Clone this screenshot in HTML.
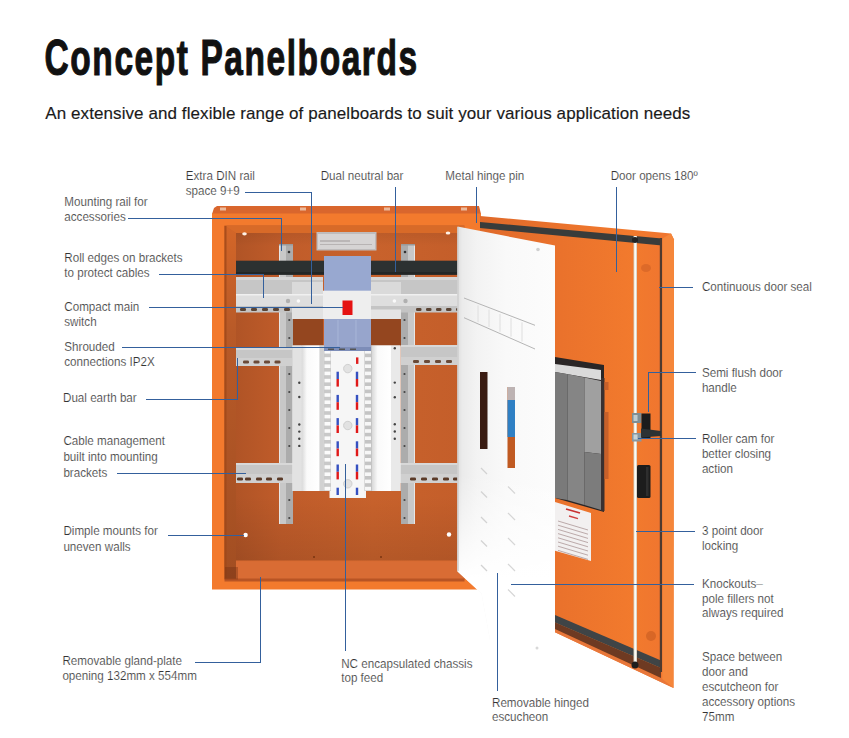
<!DOCTYPE html>
<html><head><meta charset="utf-8"><title>Concept Panelboards</title>
<style>
html,body{margin:0;padding:0;background:#fff;}
body{width:849px;height:738px;overflow:hidden;position:relative;}
svg{position:absolute;left:0;top:0;}
.lbl text{font-family:"Liberation Sans",sans-serif;font-size:12px;fill:#333333;stroke:#fff;stroke-width:0.18px;}
.ttl{font-family:"Liberation Sans",sans-serif;}
.cl polyline{fill:none;stroke:#34609c;stroke-width:1;}
</style></head>
<body>
<svg width="849" height="738" viewBox="0 0 849 738">
<text class="ttl" transform="translate(44.6,75.3) scale(0.67,1)" x="0" y="0" textLength="556" lengthAdjust="spacing" font-size="50" font-weight="bold" fill="#111" stroke="#111" stroke-width="1.1">Concept Panelboards</text>
<text class="ttl" transform="translate(45.3,118.8)" textLength="645" lengthAdjust="spacing" font-size="17" fill="#1a1a1a" stroke="#1a1a1a" stroke-width="0.15">An extensive and flexible range of panelboards to suit your various application needs</text>
<defs>
<linearGradient id="gBack" gradientUnits="userSpaceOnUse" x1="236" y1="0" x2="464" y2="0">
 <stop offset="0" stop-color="#b05426"/><stop offset="0.2" stop-color="#c05c2a"/><stop offset="0.6" stop-color="#c8622c"/><stop offset="1" stop-color="#c45e2a"/>
</linearGradient>
<linearGradient id="gBackV" gradientUnits="userSpaceOnUse" x1="0" y1="233" x2="0" y2="561">
 <stop offset="0" stop-color="#000" stop-opacity="0.06"/><stop offset="0.04" stop-color="#000" stop-opacity="0.0"/><stop offset="0.8" stop-color="#000" stop-opacity="0.0"/><stop offset="1" stop-color="#000" stop-opacity="0.1"/>
</linearGradient>
<linearGradient id="gEsc" x1="0" y1="0" x2="1" y2="0">
 <stop offset="0" stop-color="#dedede"/><stop offset="0.05" stop-color="#ebebeb"/><stop offset="0.2" stop-color="#f3f3f3"/><stop offset="0.5" stop-color="#f9f9f9"/><stop offset="1" stop-color="#fcfcfc"/>
</linearGradient>
<linearGradient id="gEscV" x1="0" y1="0" x2="0" y2="1">
 <stop offset="0" stop-color="#fff" stop-opacity="0"/><stop offset="0.6" stop-color="#fff" stop-opacity="0"/><stop offset="0.85" stop-color="#fff" stop-opacity="1"/><stop offset="1" stop-color="#fff" stop-opacity="1"/>
</linearGradient>
<linearGradient id="gDoor" gradientUnits="userSpaceOnUse" x1="480" y1="0" x2="660" y2="0">
 <stop offset="0" stop-color="#e06a2a"/><stop offset="0.45" stop-color="#ea722c"/><stop offset="0.85" stop-color="#f27a2d"/><stop offset="1" stop-color="#f0762f"/>
</linearGradient>
<linearGradient id="gLW" gradientUnits="userSpaceOnUse" x1="0" y1="226" x2="0" y2="579">
 <stop offset="0" stop-color="#d46628"/><stop offset="0.3" stop-color="#b85a28"/><stop offset="1" stop-color="#a24e22"/>
</linearGradient>
<linearGradient id="gCh" x1="0" y1="0" x2="1" y2="0">
 <stop offset="0" stop-color="#d8d8d8"/><stop offset="0.3" stop-color="#fafafa"/><stop offset="1" stop-color="#ffffff"/>
</linearGradient>
</defs>
<polygon points="214,208 217,206 479,206 481,214 212,214" fill="#d9662d"/>
<rect x="212" y="213.5" width="269" height="376" fill="#f37a2d"/>
<rect x="224.5" y="225.5" width="240" height="354" fill="#c86028"/>
<rect x="236" y="233" width="228" height="328" fill="url(#gBack)"/>
<rect x="236" y="233" width="228" height="328" fill="url(#gBackV)"/>
<rect x="236" y="561" width="228" height="18.5" fill="#d96c34"/>
<polygon points="224.5,225.5 236,233 236,579.5 224.5,579.5" fill="url(#gLW)"/>
<polygon points="224.5,225.5 464,225.5 464,233 236,233" fill="#d86a28"/>
<line x1="225.5" y1="226" x2="225.5" y2="579" stroke="#a04818" stroke-width="2" opacity="0.8"/>
<line x1="236" y1="561" x2="464" y2="561" stroke="#d86a30" stroke-width="1.2"/>
<rect x="224.5" y="578.5" width="240" height="3" fill="#b85424"/>
<rect x="225" y="567" width="13" height="12.5" fill="#6a2c10" opacity="0.35"/>
<rect x="220" y="207.5" width="6" height="3" fill="#f0d0b8" opacity="0.8"/>
<rect x="300" y="207.5" width="6" height="3" fill="#f0d0b8" opacity="0.8"/>
<rect x="384" y="207.5" width="6" height="3" fill="#f0d0b8" opacity="0.8"/>
<rect x="461" y="207.5" width="6" height="3" fill="#f0d0b8" opacity="0.8"/>
<ellipse cx="244.5" cy="233.8" rx="2.3" ry="1.6" fill="#fff2e6"/>
<ellipse cx="448" cy="233" rx="2.3" ry="1.6" fill="#fff2e6"/>
<circle cx="245.6" cy="535" r="2.2" fill="#fff"/>
<circle cx="449" cy="534.5" r="2.2" fill="#fff"/>
<circle cx="314" cy="557" r="1" fill="#7a3510"/>
<circle cx="381" cy="557" r="1" fill="#7a3510"/>
<rect x="316.5" y="232" width="60" height="18.5" fill="#bfbcbc"/>
<rect x="318" y="234" width="57" height="15" fill="#d6d4d4"/>
<line x1="320" y1="241" x2="350" y2="241" stroke="#a09a9a" stroke-width="1"/>
<line x1="320" y1="244.5" x2="372" y2="244.5" stroke="#b8b4b4" stroke-width="1"/>
<rect x="279" y="244" width="14" height="280" fill="#c8c8c8"/>
<rect x="286" y="244" width="7" height="280" fill="#acacac"/>
<rect x="279" y="244" width="1" height="280" fill="#e6e6e6"/>
<circle cx="289.3" cy="320" r="1.1" fill="#444"/>
<circle cx="289.3" cy="338" r="1.1" fill="#444"/>
<circle cx="289.3" cy="356" r="1.1" fill="#444"/>
<circle cx="289.3" cy="374" r="1.1" fill="#444"/>
<circle cx="289.3" cy="392" r="1.1" fill="#444"/>
<circle cx="289.3" cy="410" r="1.1" fill="#444"/>
<circle cx="289.3" cy="428" r="1.1" fill="#444"/>
<circle cx="289.3" cy="446" r="1.1" fill="#444"/>
<circle cx="289.3" cy="464" r="1.1" fill="#444"/>
<circle cx="289.3" cy="482" r="1.1" fill="#444"/>
<circle cx="289.3" cy="500" r="1.1" fill="#444"/>
<circle cx="289.3" cy="518" r="1.1" fill="#444"/>
<circle cx="289" cy="252" r="1.3" fill="#333"/>
<rect x="279" y="244" width="14" height="1.5" fill="#9a9a9a"/>
<rect x="401" y="244" width="14" height="280" fill="#c8c8c8"/>
<rect x="401" y="244" width="7" height="280" fill="#acacac"/>
<rect x="414" y="244" width="1" height="280" fill="#e6e6e6"/>
<circle cx="404.5" cy="320" r="1.1" fill="#444"/>
<circle cx="404.5" cy="338" r="1.1" fill="#444"/>
<circle cx="404.5" cy="356" r="1.1" fill="#444"/>
<circle cx="404.5" cy="374" r="1.1" fill="#444"/>
<circle cx="404.5" cy="392" r="1.1" fill="#444"/>
<circle cx="404.5" cy="410" r="1.1" fill="#444"/>
<circle cx="404.5" cy="428" r="1.1" fill="#444"/>
<circle cx="404.5" cy="446" r="1.1" fill="#444"/>
<circle cx="404.5" cy="464" r="1.1" fill="#444"/>
<circle cx="404.5" cy="482" r="1.1" fill="#444"/>
<circle cx="404.5" cy="500" r="1.1" fill="#444"/>
<circle cx="404.5" cy="518" r="1.1" fill="#444"/>
<circle cx="405" cy="252" r="1.3" fill="#333"/>
<rect x="401" y="244" width="14" height="1.5" fill="#9a9a9a"/>
<rect x="236" y="260.7" width="228" height="14" fill="#2c3131"/>
<rect x="236" y="272" width="228" height="2.7" fill="#222626"/>
<rect x="236" y="277" width="87" height="17" fill="#c6c6c6"/>
<rect x="236" y="277" width="87" height="3" fill="#d6d6d6"/>
<rect x="236" y="294" width="87" height="12" fill="#dedede"/>
<rect x="236" y="294" width="87" height="1.5" fill="#f0f0f0"/>
<rect x="236" y="306" width="87" height="6.5" fill="#c4c4c4"/>
<rect x="371" y="277" width="93" height="17" fill="#c6c6c6"/>
<rect x="371" y="277" width="93" height="3" fill="#d6d6d6"/>
<rect x="371" y="294" width="93" height="12" fill="#dedede"/>
<rect x="371" y="294" width="93" height="1.5" fill="#f0f0f0"/>
<rect x="371" y="306" width="93" height="6.5" fill="#c4c4c4"/>
<rect x="240" y="308" width="6" height="3" rx="1.3" fill="#5b4434"/>
<rect x="251" y="308" width="6" height="3" rx="1.3" fill="#5b4434"/>
<rect x="262" y="308" width="6" height="3" rx="1.3" fill="#5b4434"/>
<rect x="273" y="308" width="6" height="3" rx="1.3" fill="#5b4434"/>
<rect x="284" y="308" width="6" height="3" rx="1.3" fill="#5b4434"/>
<rect x="416" y="308" width="5.5" height="3" rx="1.3" fill="#5b4434"/>
<rect x="426" y="308" width="5.5" height="3" rx="1.3" fill="#5b4434"/>
<rect x="436" y="308" width="5.5" height="3" rx="1.3" fill="#5b4434"/>
<rect x="446" y="308" width="5.5" height="3" rx="1.3" fill="#5b4434"/>
<rect x="456" y="308" width="5.5" height="3" rx="1.3" fill="#5b4434"/>
<rect x="292" y="282" width="31" height="12" fill="#dadada"/>
<rect x="292" y="308" width="31" height="11" fill="#e2e2e2"/>
<rect x="371" y="282" width="30" height="12" fill="#dadada"/>
<rect x="371" y="309.5" width="30" height="10" fill="#e4e4e4"/>
<circle cx="394.4" cy="301" r="1.8" fill="#fafafa"/>
<circle cx="405.5" cy="301" r="2.2" fill="#b0b0b0"/>
<circle cx="298.4" cy="301" r="1.8" fill="#fafafa"/>
<circle cx="288" cy="301" r="2.2" fill="#b0b0b0"/>
<rect x="236" y="348" width="56" height="18" fill="#c6c6c6"/>
<rect x="236" y="348" width="56" height="2" fill="#d8d8d8"/>
<rect x="236" y="358" width="56" height="8" fill="#d0d0d0"/>
<rect x="401" y="345" width="63" height="20" fill="#c6c6c6"/>
<rect x="401" y="345" width="63" height="2" fill="#d8d8d8"/>
<rect x="401" y="357" width="63" height="8" fill="#d0d0d0"/>
<rect x="236" y="463" width="57" height="20" fill="#c6c6c6"/>
<rect x="236" y="463" width="57" height="2" fill="#d8d8d8"/>
<rect x="236" y="474" width="57" height="9" fill="#d0d0d0"/>
<rect x="400" y="463" width="64" height="20" fill="#c6c6c6"/>
<rect x="400" y="463" width="64" height="2" fill="#d8d8d8"/>
<rect x="400" y="474" width="64" height="9" fill="#d0d0d0"/>
<rect x="243" y="360.5" width="6" height="3" rx="1.3" fill="#6a4a38"/>
<rect x="253.5" y="360.5" width="6" height="3" rx="1.3" fill="#6a4a38"/>
<rect x="264" y="360.5" width="6" height="3" rx="1.3" fill="#6a4a38"/>
<rect x="274.5" y="360.5" width="6" height="3" rx="1.3" fill="#6a4a38"/>
<rect x="413" y="360" width="6" height="3" rx="1.3" fill="#6a4a38"/>
<rect x="424" y="360" width="6" height="3" rx="1.3" fill="#6a4a38"/>
<rect x="435" y="360" width="6" height="3" rx="1.3" fill="#6a4a38"/>
<rect x="446" y="360" width="6" height="3" rx="1.3" fill="#6a4a38"/>
<rect x="237" y="477.5" width="6" height="3" rx="1.3" fill="#5a3a28"/>
<rect x="245" y="477.5" width="6" height="3" rx="1.3" fill="#5a3a28"/>
<rect x="256" y="477.5" width="6" height="3" rx="1.3" fill="#5a3a28"/>
<rect x="266" y="477.5" width="6" height="3" rx="1.3" fill="#5a3a28"/>
<rect x="277" y="477.5" width="6" height="3" rx="1.3" fill="#5a3a28"/>
<rect x="410" y="477.5" width="6" height="3" rx="1.3" fill="#5a3a28"/>
<rect x="421" y="477.5" width="6" height="3" rx="1.3" fill="#5a3a28"/>
<rect x="432" y="477.5" width="6" height="3" rx="1.3" fill="#5a3a28"/>
<rect x="443" y="477.5" width="6" height="3" rx="1.3" fill="#5a3a28"/>
<rect x="453" y="477.5" width="6" height="3" rx="1.3" fill="#5a3a28"/>
<rect x="293" y="319" width="30" height="27" fill="#94461f"/>
<rect x="371" y="319" width="30" height="27" fill="#94461f"/>
<rect x="292.5" y="345.5" width="108" height="145.5" fill="#ededed"/>
<rect x="329.5" y="480" width="36.5" height="18" fill="#f3f3f3"/>
<rect x="292.5" y="345.5" width="9" height="145.5" fill="#e2e2e2"/>
<rect x="301.5" y="345.5" width="18" height="145.5" fill="url(#gCh)"/>
<rect x="319.5" y="345.5" width="4" height="145.5" fill="#d2d2d2"/>
<rect x="323.5" y="345.5" width="7.5" height="145.5" fill="#c9c9c9"/>
<rect x="331" y="345.5" width="33.5" height="152" fill="#f6f6f6"/>
<rect x="364.5" y="345.5" width="7.5" height="145.5" fill="#c4c4c4"/>
<rect x="372" y="345.5" width="19" height="145.5" fill="url(#gCh)"/>
<rect x="391" y="345.5" width="9.5" height="145.5" fill="#e9e9e9"/>
<rect x="324.5" y="350.0" width="6" height="3.6" fill="#fbfbfb"/>
<rect x="365" y="350.0" width="6" height="3.6" fill="#f7f7f7"/>
<rect x="324.5" y="357.2" width="6" height="3.6" fill="#fbfbfb"/>
<rect x="365" y="357.2" width="6" height="3.6" fill="#f7f7f7"/>
<rect x="324.5" y="364.4" width="6" height="3.6" fill="#fbfbfb"/>
<rect x="365" y="364.4" width="6" height="3.6" fill="#f7f7f7"/>
<rect x="324.5" y="371.6" width="6" height="3.6" fill="#fbfbfb"/>
<rect x="365" y="371.6" width="6" height="3.6" fill="#f7f7f7"/>
<rect x="324.5" y="378.8" width="6" height="3.6" fill="#fbfbfb"/>
<rect x="365" y="378.8" width="6" height="3.6" fill="#f7f7f7"/>
<rect x="324.5" y="386.0" width="6" height="3.6" fill="#fbfbfb"/>
<rect x="365" y="386.0" width="6" height="3.6" fill="#f7f7f7"/>
<rect x="324.5" y="393.2" width="6" height="3.6" fill="#fbfbfb"/>
<rect x="365" y="393.2" width="6" height="3.6" fill="#f7f7f7"/>
<rect x="324.5" y="400.4" width="6" height="3.6" fill="#fbfbfb"/>
<rect x="365" y="400.4" width="6" height="3.6" fill="#f7f7f7"/>
<rect x="324.5" y="407.6" width="6" height="3.6" fill="#fbfbfb"/>
<rect x="365" y="407.6" width="6" height="3.6" fill="#f7f7f7"/>
<rect x="324.5" y="414.8" width="6" height="3.6" fill="#fbfbfb"/>
<rect x="365" y="414.8" width="6" height="3.6" fill="#f7f7f7"/>
<rect x="324.5" y="422.0" width="6" height="3.6" fill="#fbfbfb"/>
<rect x="365" y="422.0" width="6" height="3.6" fill="#f7f7f7"/>
<rect x="324.5" y="429.2" width="6" height="3.6" fill="#fbfbfb"/>
<rect x="365" y="429.2" width="6" height="3.6" fill="#f7f7f7"/>
<rect x="324.5" y="436.4" width="6" height="3.6" fill="#fbfbfb"/>
<rect x="365" y="436.4" width="6" height="3.6" fill="#f7f7f7"/>
<rect x="324.5" y="443.6" width="6" height="3.6" fill="#fbfbfb"/>
<rect x="365" y="443.6" width="6" height="3.6" fill="#f7f7f7"/>
<rect x="324.5" y="450.8" width="6" height="3.6" fill="#fbfbfb"/>
<rect x="365" y="450.8" width="6" height="3.6" fill="#f7f7f7"/>
<rect x="324.5" y="458.0" width="6" height="3.6" fill="#fbfbfb"/>
<rect x="365" y="458.0" width="6" height="3.6" fill="#f7f7f7"/>
<rect x="324.5" y="465.2" width="6" height="3.6" fill="#fbfbfb"/>
<rect x="365" y="465.2" width="6" height="3.6" fill="#f7f7f7"/>
<rect x="324.5" y="472.4" width="6" height="3.6" fill="#fbfbfb"/>
<rect x="365" y="472.4" width="6" height="3.6" fill="#f7f7f7"/>
<rect x="324.5" y="479.6" width="6" height="3.6" fill="#fbfbfb"/>
<rect x="365" y="479.6" width="6" height="3.6" fill="#f7f7f7"/>
<rect x="324.5" y="486.8" width="6" height="3.6" fill="#fbfbfb"/>
<rect x="365" y="486.8" width="6" height="3.6" fill="#f7f7f7"/>
<circle cx="299.3" cy="382.8" r="1.2" fill="#444"/>
<circle cx="299.3" cy="397" r="1.2" fill="#444"/>
<circle cx="299.3" cy="424.5" r="1.2" fill="#444"/>
<circle cx="299.3" cy="431.6" r="1.2" fill="#444"/>
<circle cx="299.3" cy="438.7" r="1.2" fill="#444"/>
<circle cx="299.3" cy="445.9" r="1.2" fill="#444"/>
<circle cx="394.8" cy="348.3" r="1.2" fill="#444"/>
<circle cx="394.8" cy="382.6" r="1.2" fill="#444"/>
<circle cx="394.8" cy="397.3" r="1.2" fill="#444"/>
<circle cx="394.8" cy="424.2" r="1.2" fill="#444"/>
<circle cx="394.8" cy="431.5" r="1.2" fill="#444"/>
<circle cx="394.8" cy="438.7" r="1.2" fill="#444"/>
<circle cx="347.8" cy="368.6" r="4.2" fill="#e2e2e2" stroke="#cfcfcf" stroke-width="1"/>
<circle cx="347.8" cy="425.5" r="4.2" fill="#e2e2e2" stroke="#cfcfcf" stroke-width="1"/>
<circle cx="347.8" cy="483.8" r="4.2" fill="#e2e2e2" stroke="#cfcfcf" stroke-width="1"/>
<rect x="356" y="357.4" width="2.4" height="6.5" fill="#e02020"/>
<rect x="336.5" y="371.7" width="2.4" height="7.3" fill="#3550c0"/>
<rect x="336.5" y="379.0" width="2.4" height="7.6" fill="#e01818"/>
<rect x="355.8" y="371.7" width="2.4" height="7.3" fill="#3550c0"/>
<rect x="355.8" y="379.0" width="2.4" height="7.6" fill="#e01818"/>
<rect x="336.5" y="394.9" width="2.4" height="7.3" fill="#3550c0"/>
<rect x="336.5" y="402.2" width="2.4" height="7.6" fill="#e01818"/>
<rect x="355.8" y="394.9" width="2.4" height="7.3" fill="#3550c0"/>
<rect x="355.8" y="402.2" width="2.4" height="7.6" fill="#e01818"/>
<rect x="336.5" y="418.1" width="2.4" height="7.3" fill="#3550c0"/>
<rect x="336.5" y="425.4" width="2.4" height="7.6" fill="#e01818"/>
<rect x="355.8" y="418.1" width="2.4" height="7.3" fill="#3550c0"/>
<rect x="355.8" y="425.4" width="2.4" height="7.6" fill="#e01818"/>
<rect x="336.5" y="441.3" width="2.4" height="7.3" fill="#3550c0"/>
<rect x="336.5" y="448.6" width="2.4" height="7.6" fill="#e01818"/>
<rect x="355.8" y="441.3" width="2.4" height="7.3" fill="#3550c0"/>
<rect x="355.8" y="448.6" width="2.4" height="7.6" fill="#e01818"/>
<rect x="336.5" y="464.5" width="2.4" height="7.3" fill="#3550c0"/>
<rect x="336.5" y="471.8" width="2.4" height="7.6" fill="#e01818"/>
<rect x="355.8" y="464.5" width="2.4" height="7.3" fill="#3550c0"/>
<rect x="355.8" y="471.8" width="2.4" height="7.6" fill="#e01818"/>
<rect x="336.5" y="487.7" width="2.4" height="7.3" fill="#3550c0"/>
<rect x="355.8" y="487.7" width="2.4" height="7.3" fill="#3550c0"/>
<rect x="324" y="256" width="47" height="35" fill="#98a8d0"/>
<rect x="323" y="290.7" width="48" height="28.3" fill="#eeeeee"/>
<rect x="342.5" y="300.5" width="10" height="14.5" fill="#e51212"/>
<rect x="324" y="319" width="47" height="32" fill="#97a5cc"/>
<rect x="324" y="347" width="47" height="4" fill="#7d8db8"/>
<line x1="338" y1="320" x2="338" y2="346" stroke="#a8b6d8" stroke-width="1"/>
<line x1="356" y1="320" x2="356" y2="346" stroke="#a8b6d8" stroke-width="1"/>
<rect x="328" y="348.5" width="6" height="1.5" fill="#555"/>
<rect x="339" y="348.5" width="6" height="1.5" fill="#555"/>
<rect x="350" y="348.5" width="6" height="1.5" fill="#555"/>
<polygon points="480,216 671,233.5 674,239.5 673.5,688 555,632.3 555,250 480,250" fill="url(#gDoor)"/>
<polygon points="480,222 662,238.5 662,245.5 480,228" fill="#393c3b"/>
<polygon points="555,632.3 673.5,688 660,678 555,629" fill="#e8773a"/>
<polygon points="555,622.5 661,668 661,678 555,629" fill="#6e3a22"/>
<polygon points="555,615 661,660.5 661,668 555,622.5" fill="#3f4446"/>
<rect x="659.8" y="238" width="2.4" height="434" fill="#4f3a2e"/>
<polygon points="662.3,238.4 671,233.5 674,239.5 673.5,688 662.3,679" fill="#f5863a"/>
<ellipse cx="646" cy="268" rx="5" ry="4" fill="#b85020" opacity="0.35"/>
<ellipse cx="651" cy="636" rx="5" ry="5" fill="#a84818" opacity="0.35"/>
<polygon points="555,357 604,365 604,512 555,498" fill="#2a2626"/>
<polygon points="555,364 601,370 601,380 555,372" fill="#dadada"/>
<polygon points="555,372 567,374 567,500 555,498" fill="#7a7a7a"/>
<polygon points="567,374 584.5,377.5 584.5,505 567,500" fill="#858585"/>
<polygon points="584.5,377.5 601,381 601,454 584.5,452" fill="#a0a0a0"/>
<polygon points="584.5,452 601,454 601,510 584.5,505" fill="#7c7c7c"/>
<line x1="567.5" y1="374" x2="567.5" y2="500" stroke="#6a6a6a" stroke-width="1"/>
<rect x="601" y="378" width="3.5" height="133" fill="#3a3030"/>
<rect x="604.5" y="382" width="4" height="8" fill="#c8602a"/>
<rect x="604.5" y="412" width="4" height="67" fill="#c8602a"/>
<polygon points="555,502 591,513 591,561 555,550.7" fill="#f2f0f0"/>
<line x1="566" y1="509" x2="580" y2="513" stroke="#c83030" stroke-width="1.6"/>
<line x1="569" y1="516" x2="578" y2="518.6" stroke="#d04040" stroke-width="1.4"/>
<line x1="558" y1="521.0" x2="588" y2="530.0" stroke="#8a6a6a" stroke-width="0.7" opacity="0.75"/>
<line x1="558" y1="525.2" x2="588" y2="534.2" stroke="#8a6a6a" stroke-width="0.7" opacity="0.75"/>
<line x1="558" y1="529.4" x2="588" y2="538.4" stroke="#8a6a6a" stroke-width="0.7" opacity="0.75"/>
<line x1="558" y1="533.6" x2="588" y2="542.6" stroke="#8a6a6a" stroke-width="0.7" opacity="0.75"/>
<line x1="558" y1="537.8" x2="588" y2="546.8" stroke="#8a6a6a" stroke-width="0.7" opacity="0.75"/>
<line x1="558" y1="542.0" x2="588" y2="551.0" stroke="#8a6a6a" stroke-width="0.7" opacity="0.75"/>
<line x1="558" y1="546.2" x2="588" y2="555.2" stroke="#8a6a6a" stroke-width="0.7" opacity="0.75"/>
<line x1="558" y1="550.4" x2="588" y2="559.4" stroke="#8a6a6a" stroke-width="0.7" opacity="0.75"/>
<rect x="633.5" y="236" width="3.5" height="430" fill="#cfc8b8"/>
<rect x="634.3" y="236" width="2" height="430" fill="#fdfcf6"/>
<circle cx="635" cy="240" r="3" fill="#222"/>
<circle cx="635" cy="665" r="3.5" fill="#1e1e1e"/>
<rect x="632" y="413" width="9.5" height="10" fill="#7f8e94"/>
<rect x="633.5" y="415" width="4" height="6" fill="#c0ccd0"/>
<rect x="632" y="433" width="9.5" height="8.5" fill="#8796a0"/>
<rect x="633.5" y="434.5" width="4" height="5" fill="#c8d4d8"/>
<rect x="641.5" y="413.5" width="9" height="25" fill="#1c1c1c"/>
<polygon points="641,428.5 661,431 661,436 641,437.5" fill="#2c3234"/>
<rect x="637" y="465" width="13.5" height="33" rx="1.5" fill="#1c1c1c"/>
<rect x="646" y="467" width="2.5" height="29" fill="#2e2e2e"/>
<polygon points="457.5,226.6 555,245.6 555,640 490,640 481.5,593.4 457.5,571.5" fill="url(#gEsc)"/>
<polygon points="457.5,226.6 555,245.6 555,640 490,640 481.5,593.4 457.5,571.5" fill="url(#gEscV)"/>
<line x1="464" y1="298" x2="535" y2="325.3" stroke="#b5b5b5" stroke-width="1"/>
<line x1="464" y1="317.7" x2="535" y2="349" stroke="#b5b5b5" stroke-width="1"/>
<rect x="480" y="372" width="7.5" height="77" fill="#3a1c12"/>
<rect x="507.5" y="387" width="7.5" height="81" fill="#c05a22"/>
<rect x="507.5" y="387" width="7.5" height="13" fill="#bdb3b3"/>
<rect x="507.5" y="400" width="7.5" height="37" fill="#2f80c4"/>
<line x1="481" y1="468" x2="487" y2="474" stroke="#d2d2d2" stroke-width="1.2"/>
<line x1="481" y1="491.5" x2="487" y2="497.5" stroke="#d2d2d2" stroke-width="1.2"/>
<line x1="481" y1="517" x2="487" y2="523" stroke="#d2d2d2" stroke-width="1.2"/>
<line x1="481" y1="540.5" x2="487" y2="546.5" stroke="#d2d2d2" stroke-width="1.2"/>
<line x1="481" y1="565" x2="487" y2="571" stroke="#d2d2d2" stroke-width="1.2"/>
<line x1="508" y1="486.5" x2="515" y2="493.5" stroke="#d6d6d6" stroke-width="1.2"/>
<line x1="508" y1="513.0" x2="515" y2="520.0" stroke="#d6d6d6" stroke-width="1.2"/>
<line x1="508" y1="538.0" x2="515" y2="545.0" stroke="#d6d6d6" stroke-width="1.2"/>
<line x1="508" y1="564.0" x2="515" y2="571.0" stroke="#d6d6d6" stroke-width="1.2"/>
<line x1="508" y1="589.5" x2="515" y2="596.5" stroke="#d6d6d6" stroke-width="1.2"/>
<circle cx="537" cy="648" r="1.5" fill="#d8d8d8"/>
<circle cx="538" cy="249.5" r="1.8" fill="#d0d0d0"/>
<line x1="478" y1="305.4" x2="478" y2="322.2" stroke="#dedede" stroke-width="1"/>
<line x1="489" y1="309.6" x2="489" y2="327.0" stroke="#dedede" stroke-width="1"/>
<line x1="500" y1="313.9" x2="500" y2="331.8" stroke="#dedede" stroke-width="1"/>
<line x1="511" y1="318.1" x2="511" y2="336.7" stroke="#dedede" stroke-width="1"/>
<line x1="522" y1="322.3" x2="522" y2="341.5" stroke="#dedede" stroke-width="1"/>
<line x1="458" y1="227" x2="458" y2="571" stroke="#cfcfcf" stroke-width="1.5"/>
<g class="cl" shape-rendering="crispEdges">
<polyline points="128.4,218.5 281,218.5 281,251"/>
<polyline points="244.5,192 311,192 311,304"/>
<polyline points="395.5,187 395.5,272"/>
<polyline points="476.5,187 476.5,223"/>
<polyline points="616.5,187 616.5,272"/>
<polyline points="658.5,287 693,287"/>
<polyline points="159,274.5 263.5,274.5 263.5,298"/>
<polyline points="149,307 343,307"/>
<polyline points="122,347.3 340,347.3"/>
<polyline points="145.5,399.5 237.5,399.5 237.5,358"/>
<polyline points="117,473.7 246,473.7"/>
<polyline points="168,535 244,535"/>
<polyline points="195,662 260.5,662 260.5,577"/>
<polyline points="345.5,651 345.5,464"/>
<polyline points="497.5,691 497.5,573"/>
<polyline points="511,584.7 694,584.7"/>
<polyline points="636,531.2 694.5,531.2"/>
<polyline points="648.5,412 648.5,372.5 696,372.5"/>
<polyline points="638,438.7 696,438.7"/>
</g>
<g class="lbl">
<text transform="translate(64.3,206.0) scale(0.97,1)">Mounting rail for</text>
<text transform="translate(64.3,220.6) scale(0.97,1)">accessories</text>
<text transform="translate(185.8,179.6) scale(0.97,1)">Extra DIN rail</text>
<text transform="translate(185.8,195.2) scale(0.97,1)">space 9+9</text>
<text transform="translate(320.7,180.0) scale(0.97,1)">Dual neutral bar</text>
<text transform="translate(445.3,180.0) scale(0.97,1)">Metal hinge pin</text>
<text transform="translate(610.7,180.0) scale(0.97,1)">Door opens 180º</text>
<text transform="translate(64.3,261.8) scale(0.97,1)">Roll edges on brackets</text>
<text transform="translate(64.3,276.6) scale(0.97,1)">to protect cables</text>
<text transform="translate(64.3,311.2) scale(0.97,1)">Compact main</text>
<text transform="translate(64.3,325.8) scale(0.97,1)">switch</text>
<text transform="translate(64.3,350.8) scale(0.97,1)">Shrouded</text>
<text transform="translate(64.3,365.9) scale(0.97,1)">connections IP2X</text>
<text transform="translate(63.0,401.9) scale(0.97,1)">Dual earth bar</text>
<text transform="translate(63.4,445.4) scale(0.97,1)">Cable management</text>
<text transform="translate(63.4,460.9) scale(0.97,1)">built into mounting</text>
<text transform="translate(63.4,476.5) scale(0.97,1)">brackets</text>
<text transform="translate(63.4,535.4) scale(0.97,1)">Dimple mounts for</text>
<text transform="translate(63.4,550.7) scale(0.97,1)">uneven walls</text>
<text transform="translate(62.4,664.7) scale(0.97,1)">Removable gland-plate</text>
<text transform="translate(62.4,680.0) scale(0.97,1)">opening 132mm x 554mm</text>
<text transform="translate(341.2,667.6) scale(0.97,1)">NC encapsulated chassis</text>
<text transform="translate(341.2,682.4) scale(0.97,1)">top feed</text>
<text transform="translate(492.0,707.0) scale(0.97,1)">Removable hinged</text>
<text transform="translate(492.0,721.3) scale(0.97,1)">escucheon</text>
<text transform="translate(701.9,290.7) scale(0.97,1)">Continuous door seal</text>
<text transform="translate(701.9,377.2) scale(0.97,1)">Semi flush door</text>
<text transform="translate(701.9,392.2) scale(0.97,1)">handle</text>
<text transform="translate(701.9,442.6) scale(0.97,1)">Roller cam for</text>
<text transform="translate(701.9,457.6) scale(0.97,1)">better closing</text>
<text transform="translate(701.9,472.6) scale(0.97,1)">action</text>
<text transform="translate(702.0,535.4) scale(0.97,1)">3 point door</text>
<text transform="translate(702.0,550.3) scale(0.97,1)">locking</text>
<text transform="translate(702.0,587.6) scale(0.97,1)">Knockouts–</text>
<text transform="translate(702.0,602.5) scale(0.97,1)">pole fillers not</text>
<text transform="translate(702.0,617.4) scale(0.97,1)">always required</text>
<text transform="translate(702.0,660.6) scale(0.97,1)">Space between</text>
<text transform="translate(702.0,675.8) scale(0.97,1)">door and</text>
<text transform="translate(702.0,690.9) scale(0.97,1)">escutcheon for</text>
<text transform="translate(702.0,706.1) scale(0.97,1)">accessory options</text>
<text transform="translate(702.0,721.2) scale(0.97,1)">75mm</text>
</g>
</svg>
</body></html>
